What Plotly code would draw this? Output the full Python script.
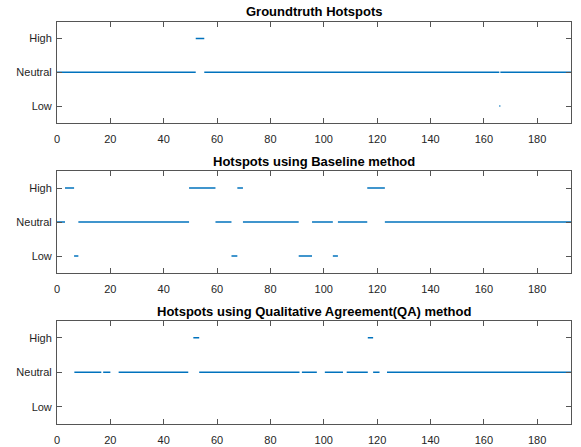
import plotly.graph_objects as go

# ---- data (run-length reading of each hotspot signal) ----
level_labels = ["Low", "Neutral", "High"]
level_values = [-1, 0, 1]
x_ticks = [0, 20, 40, 60, 80, 100, 120, 140, 160, 180]

gt_starts = [0, 52.0, 55.2, 165.8, 166.2]
gt_ends = [52.0, 55.2, 165.8, 166.2, 193]
gt_levels = [0, 1, 0, -1, 0]

bl_starts = [0, 3.0, 6.4, 8.0, 49.5, 59.4, 65.4, 67.6, 69.7, 90.6, 95.6, 103.4, 105.3, 116.3, 122.9]
bl_ends = [3.0, 6.4, 8.0, 49.5, 59.4, 65.4, 67.6, 69.7, 90.6, 95.6, 103.4, 105.3, 116.3, 122.9, 193]
bl_levels = [0, 1, -1, 0, 1, 0, -1, 1, 0, -1, 0, -1, 0, 1, 0]

qa_starts = [6.5, 17.3, 23.1, 51.1, 53.3, 91.8, 100.4, 108.6, 116.5, 118.5, 123.7]
qa_ends = [16.6, 20.0, 49.2, 53.3, 90.9, 97.4, 107.2, 116.5, 118.5, 120.9, 193]
qa_levels = [0, 0, 0, 1, 0, 0, 0, 0, 1, 0, 0]

titles = ["Groundtruth Hotspots", "Hotspots using Baseline method",
          "Hotspots using Qualitative Agreement(QA) method"]
series = [(gt_starts, gt_ends, gt_levels), (bl_starts, bl_ends, bl_levels),
          (qa_starts, qa_ends, qa_levels)]

# ---- layout geometry (pixels) ----
W, H = 581, 447
x_left, x_right = 54.3, 571
x_max = 192.7
panels = [(21.5, 123), (171, 273), (320.5, 424)]
BLUE = "#0072BD"
FONT = "Liberation Sans, Arial, Helvetica, sans-serif"
AX = "#555555"

fig = go.Figure()
annotations = []
for i, ((s, e, lv), (top, bot), title) in enumerate(zip(series, panels, titles)):
    xs, ys = [], []
    for a, b, l in zip(s, e, lv):
        xs += [a, b, None]
        ys += [l, l, None]
    sfx = "" if i == 0 else str(i + 1)
    fig.add_trace(go.Scatter(x=xs, y=ys, mode="lines",
                             line=dict(color=BLUE, width=1.5),
                             xaxis="x" + sfx, yaxis="y" + sfx,
                             showlegend=False, hoverinfo="skip"))
    dom_y = [1 - bot / H, 1 - top / H]
    common = dict(showline=True, linecolor=AX, linewidth=1, mirror="ticks",
                  ticks="inside", ticklen=5, tickcolor=AX, tickwidth=1,
                  showgrid=False, zeroline=False,
                  tickfont=dict(family=FONT, size=11, color="#262626"))
    fig.update_layout(**{
        "xaxis" + sfx: dict(domain=[x_left / W, x_right / W], range=[0, x_max],
                            tickvals=x_ticks, anchor="y" + sfx,
                            ticklabelstandoff=6, **common),
        "yaxis" + sfx: dict(domain=dom_y, range=[-1.5, 1.5], tickvals=level_values,
                            ticktext=level_labels, anchor="x" + sfx,
                            ticklabelstandoff=2, **common),
    })
    annotations.append(dict(text="<b>" + title + "</b>", xref="paper", yref="paper",
                            x=(x_left + x_right) / 2 / W, y=1 - (top - 9.5) / H,
                            xanchor="center", yanchor="middle", showarrow=False,
                            font=dict(family=FONT, size=13, color="#000000")))

fig.update_layout(width=W, height=H, margin=dict(l=0, r=0, t=0, b=0),
                  paper_bgcolor="white", plot_bgcolor="white",
                  annotations=annotations)
fig.write_html("out.html")
